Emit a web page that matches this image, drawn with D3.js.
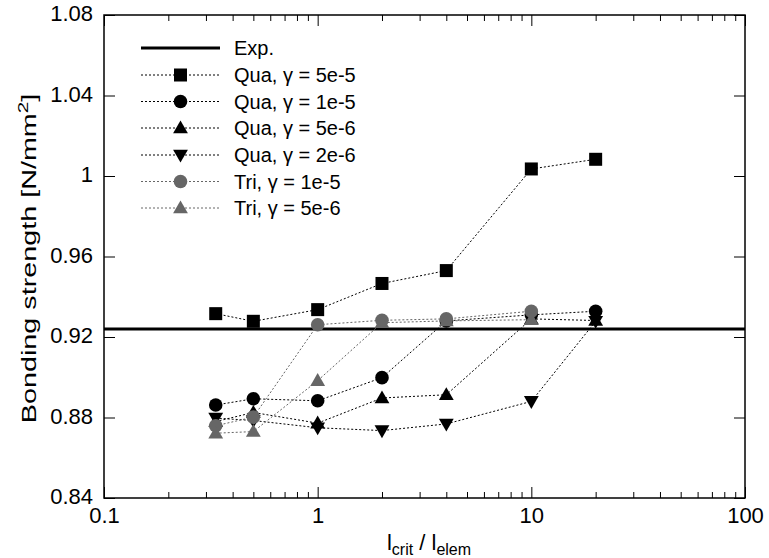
<!DOCTYPE html>
<html>
<head>
<meta charset="utf-8">
<script src="https://cdn.jsdelivr.net/npm/d3@7"></script>
<style>
  html, body { margin: 0; padding: 0; background: #fff; }
  svg { display: block; font-family: "Liberation Sans", Arial, sans-serif; }
</style>
</head>
<body>
<svg id="chart" width="769" height="558"></svg>
<script>
// ---- data ----
const ratios = [1/3, 0.5, 1, 2, 4, 10, 20];
const quaG5e5 = [0.9316, 0.9278, 0.9336, 0.9466, 0.9530, 1.0035, 1.0083];
const quaG1e5 = [0.8862, 0.8893, 0.8883, 0.8998, 0.9280, 0.9310, 0.9328];
const quaG5e6 = [0.8780, 0.8825, 0.8772, 0.8897, 0.8913, 0.9290, 0.9282];
const quaG2e6 = [0.8797, 0.8785, 0.8749, 0.8735, 0.8768, 0.8880, 0.9278];
const triG1e5 = [0.8759, 0.8802, 0.9261, 0.9283, 0.9290, 0.9328];
const triG5e6 = [0.8722, 0.8730, 0.8983, 0.9271, 0.9280, 0.9286];
const expValue = 0.924;
const seriesNames = ["Qua, \u03b3 = 5e-5", "Qua, \u03b3 = 1e-5", "Qua, \u03b3 = 5e-6", "Qua, \u03b3 = 2e-6", "Tri, \u03b3 = 1e-5", "Tri, \u03b3 = 5e-6"];
const seriesValues = [quaG5e5, quaG1e5, quaG5e6, quaG2e6, triG1e5, triG5e6];
const seriesShapes = ["square", "circle", "up", "down", "circle", "up"];
const seriesColors = ["#000", "#000", "#000", "#000", "#666", "#666"];
const yTicks = [0.84, 0.88, 0.92, 0.96, 1.0, 1.04, 1.08];
const yTickLabels = ["0.84", "0.88", "0.92", "0.96", "1", "1.04", "1.08"];
const xTicks = [0.1, 1, 10, 100];
const xTickLabels = ["0.1", "1", "10", "100"];

// ---- layout ----
const L = 104, R = 745, T = 15, B = 498;
const svg = d3.select("#chart");
const x = d3.scaleLog().domain([0.1, 100]).range([L, R]);
const y = d3.scaleLinear().domain([0.84, 1.08]).range([B, T]);

const minorX = [];
for (let d = 0.1; d < 100; d *= 10) for (let k = 2; k <= 9; k++) minorX.push(d * k);

// axes
const fmtMap = (ticks, labels) => v => labels[ticks.findIndex(t => Math.abs(t - v) < 1e-9)];
const gB = svg.append("g").attr("transform", `translate(0,${B})`)
  .call(d3.axisBottom(x).tickValues(xTicks).tickFormat(fmtMap(xTicks, xTickLabels)).tickSizeInner(-11).tickSizeOuter(0).tickPadding(18));
const gBm = svg.append("g").attr("transform", `translate(0,${B})`)
  .call(d3.axisBottom(x).tickValues(minorX).tickFormat("").tickSizeInner(-6).tickSizeOuter(0));
const gT = svg.append("g").attr("transform", `translate(0,${T})`)
  .call(d3.axisTop(x).tickValues(xTicks).tickFormat("").tickSizeInner(-11).tickSizeOuter(0));
const gTm = svg.append("g").attr("transform", `translate(0,${T})`)
  .call(d3.axisTop(x).tickValues(minorX).tickFormat("").tickSizeInner(-6).tickSizeOuter(0));
const gL = svg.append("g").attr("transform", `translate(${L},0)`)
  .call(d3.axisLeft(y).tickValues(yTicks).tickFormat(fmtMap(yTicks, yTickLabels)).tickSizeInner(-11).tickSizeOuter(0).tickPadding(11));
const gR = svg.append("g").attr("transform", `translate(${R},0)`)
  .call(d3.axisRight(y).tickValues(yTicks).tickFormat("").tickSizeInner(-11).tickSizeOuter(0));
[gB, gBm, gT, gTm, gL, gR].forEach(g => {
  g.select(".domain").remove();
  g.selectAll(".tick line").attr("stroke", "#000").attr("stroke-width", 1);
  g.selectAll(".tick text").attr("fill", "#000").attr("font-size", 22)
    .attr("font-family", "Liberation Sans, Arial, sans-serif");
});
gB.selectAll(".tick text").attr("dy", "0.3em");
gL.selectAll(".tick text").attr("dy", "0.25em");

// frame
svg.append("rect").attr("x", L).attr("y", T).attr("width", R - L).attr("height", B - T)
  .attr("fill", "none").attr("stroke", "#000").attr("stroke-width", 1.5);

// experimental line
svg.append("line").attr("x1", L).attr("x2", R).attr("y1", y(expValue)).attr("y2", y(expValue))
  .attr("stroke", "#000").attr("stroke-width", 3);

// marker drawing
function drawMarker(g, shape, cx, cy, color) {
  if (shape === "square") {
    g.append("rect").attr("x", cx - 6.5).attr("y", cy - 6.5).attr("width", 13).attr("height", 13).attr("fill", color);
  } else if (shape === "circle") {
    g.append("circle").attr("cx", cx).attr("cy", cy).attr("r", 6.8).attr("fill", color);
  } else {
    const s = d3.symbol().type(d3.symbolTriangle).size(95)();
    g.append("path").attr("d", s)
      .attr("transform", `translate(${cx},${cy + (shape === "up" ? 1 : -1)}) rotate(${shape === "up" ? 0 : 180})`)
      .attr("fill", color);
  }
}

const line = d3.line().x(d => x(d[0])).y(d => y(d[1]));
const plot = svg.append("g");
seriesValues.forEach((vals, i) => {
  const pts = vals.map((v, j) => [ratios[j], v]);
  plot.append("path").attr("d", line(pts)).attr("fill", "none")
    .attr("stroke", seriesColors[i]).attr("stroke-width", 1).attr("stroke-dasharray", "2,2");
});
seriesValues.forEach((vals, i) => {
  const g = plot.append("g");
  vals.forEach((v, j) => drawMarker(g, seriesShapes[i], x(ratios[j]), y(v), seriesColors[i]));
});

// legend
const lg = svg.append("g");
const lx0 = 141, lx1 = 220, ltx = 234;
const rowY = [48, 75, 101.5, 128, 155, 181.5, 208];
lg.append("line").attr("x1", lx0).attr("x2", lx1).attr("y1", rowY[0]).attr("y2", rowY[0])
  .attr("stroke", "#000").attr("stroke-width", 3);
lg.append("text").attr("x", ltx).attr("y", rowY[0]).attr("dy", "0.35em").attr("font-size", 20).text("Exp.");
seriesNames.forEach((name, i) => {
  const yy = rowY[i + 1];
  lg.append("line").attr("x1", lx0).attr("x2", lx1).attr("y1", yy).attr("y2", yy)
    .attr("stroke", seriesColors[i]).attr("stroke-width", 1).attr("stroke-dasharray", "2,2");
  drawMarker(lg, seriesShapes[i], (lx0 + lx1) / 2, yy, seriesColors[i]);
  lg.append("text").attr("x", ltx).attr("y", yy).attr("dy", "0.35em").attr("font-size", 20)
    .attr("xml:space", "preserve").text(name);
});

// axis titles
const xt = svg.append("text").attr("x", 429).attr("y", 550).attr("text-anchor", "middle").attr("font-size", 22);
xt.append("tspan").text("l");
xt.append("tspan").attr("font-size", 16).attr("dy", 5).text("crit");
xt.append("tspan").attr("dy", -5).text(" / l");
xt.append("tspan").attr("font-size", 16).attr("dy", 5).text("elem");

const yt = svg.append("text").attr("transform", `translate(36,${(T + B) / 2 + 2}) rotate(-90) scale(1.37,1)`)
  .attr("text-anchor", "middle").attr("font-size", 21);
yt.append("tspan").text("Bonding strength [N/mm");
yt.append("tspan").attr("font-size", 15).attr("dy", -8).text("2");
yt.append("tspan").attr("dy", 8).text("]");
</script>
</body>
</html>
